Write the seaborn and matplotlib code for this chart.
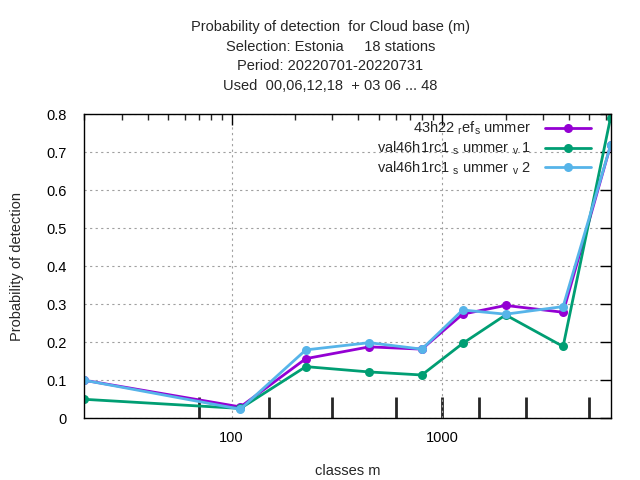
import numpy as np
import pandas as pd
import matplotlib
matplotlib.use('Agg')
import matplotlib.pyplot as plt
from matplotlib.ticker import FixedLocator, NullFormatter, FuncFormatter
import seaborn as sns

sns.set_style('white')
plt.rcParams['font.family'] = ['Liberation Sans', 'DejaVu Sans']
plt.rcParams['mathtext.fontset'] = 'custom'
plt.rcParams['mathtext.rm'] = 'Liberation Sans'
plt.rcParams['mathtext.it'] = 'Liberation Sans'

# class centres (m) and probability of detection per experiment
classes = [20, 110, 225, 450, 800, 1250, 2000, 3750, 6300]
pod_ref = [0.100, 0.030, 0.157, 0.188, 0.182, 0.274, 0.297, 0.279, 0.718]
pod_v1 = [0.050, 0.026, 0.136, 0.122, 0.114, 0.197, 0.272, 0.189, 0.791]
pod_v2 = [0.100, 0.024, 0.180, 0.199, 0.182, 0.285, 0.274, 0.294, 0.718]
class_bounds = [70, 150, 300, 600, 1000, 1500, 2500, 5000]

names = [r'43h22 $_\mathrm{r}$ef$_\mathrm{s}$ ummer',
         r'val46h1rc1 $_\mathrm{s}$ ummer $_\mathrm{v}$ 1',
         r'val46h1rc1 $_\mathrm{s}$ ummer $_\mathrm{v}$ 2']
colors = ['#9400d3', '#009e73', '#56b4e9']
fs = 10.5

df = pd.DataFrame({
    'classes': classes * 3,
    'pod': pod_ref + pod_v1 + pod_v2,
    'exp': [names[0]] * 9 + [names[1]] * 9 + [names[2]] * 9,
})

fig = plt.figure(figsize=(6.4, 4.8), dpi=100)
ax = fig.add_axes([0.132, 0.1285, 0.822, 0.6335])

sns.lineplot(data=df, x='classes', y='pod', hue='exp', hue_order=names,
             palette=colors, marker='o', markersize=6.5, markeredgewidth=0,
             linewidth=2, ax=ax)

ax.set_xscale('log')
ax.set_xlim(classes[0], classes[-1])
ax.set_ylim(0, 0.8)
ax.set_yticks(np.arange(0, 0.81, 0.1))
ax.yaxis.set_major_formatter(FuncFormatter(lambda v, p: '%g' % round(v, 2)))
ax.xaxis.set_major_locator(FixedLocator([100, 1000]))
ax.xaxis.set_major_formatter(FuncFormatter(lambda v, p: '%d' % v))
minors = [m * d for d in (10, 100, 1000) for m in range(2, 10)]
ax.xaxis.set_minor_locator(FixedLocator(minors))
ax.xaxis.set_minor_formatter(NullFormatter())
ax.tick_params(which='major', direction='in', length=8, width=1, top=True, right=True,
               labelsize=fs, colors='black')
ax.tick_params(axis='y', pad=13)
ax.tick_params(axis='x', pad=9)
ax.tick_params(which='minor', direction='in', length=4, width=1, top=True)

ax.grid(True, which='major', color='#a0a0a0', linestyle=(0, (2, 3)), linewidth=0.8)
for s in ax.spines.values():
    s.set_color('black')
    s.set_linewidth(1)

# class boundary ticks
sec = ax.secondary_xaxis('bottom')
sec.set_xticks(class_bounds)
sec.xaxis.set_minor_locator(FixedLocator([]))
sec.tick_params(direction='in', length=15, width=2, labelbottom=False)
sec.spines['bottom'].set_visible(False)

ax.set_xlabel('classes m', fontsize=fs, labelpad=14)
ax.set_ylabel('Probability of detection', fontsize=fs, labelpad=16)

leg = ax.legend(loc='upper right', bbox_to_anchor=(0.962, 0.981), frameon=False,
                markerfirst=False, fontsize=fs, handlelength=3.15, labelspacing=0.16,
                borderaxespad=0, borderpad=0, handletextpad=0.95)

title = ('Probability of detection  for Cloud base (m)\n'
         'Selection: Estonia     18 stations\n'
         'Period: 20220701-20220731\n'
         'Used  00,06,12,18  + 03 06 ... 48')
fig.text(0.516, 0.958, title, ha='center', va='top', fontsize=fs, linespacing=1.5)

fig.savefig('out.png', dpi=100)
